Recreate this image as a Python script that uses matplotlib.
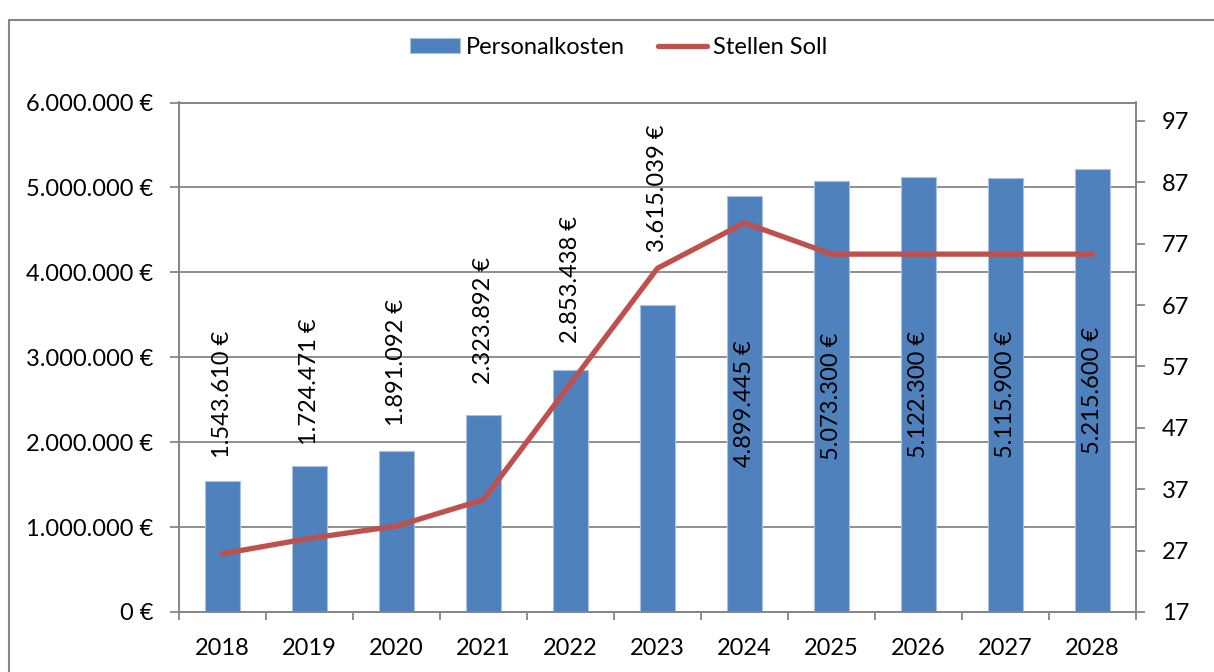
import numpy as np
import matplotlib.pyplot as plt
from matplotlib.patches import Rectangle
from matplotlib.ticker import FuncFormatter, MultipleLocator

years = ['2018', '2019', '2020', '2021', '2022', '2023', '2024', '2025', '2026', '2027', '2028']
personalkosten = [1543610, 1724471, 1891092, 2323892, 2853438, 3615039,
                  4899445, 5073300, 5122300, 5115900, 5215600]
stellen_soll = [26.5, 29, 31, 35.3, 54.2, 73, 80.4, 75.3, 75.3, 75.3, 75.3]

# label offsets above the bars (points), hand placed like in the original
label_pad = [16.5, 15, 18, 22, 19.5, 38]

plt.rcParams['font.family'] = ['Lato', 'DejaVu Sans']
fs = 17
grey = '#868686'


def euro(v, pos=None):
    return f"{int(round(v)):,} €".replace(',', '.')


fig = plt.figure(figsize=(12.14, 6.72), dpi=100)
W, H = 1214, 672
ax = fig.add_axes([179 / W, 1 - 612 / H, (1136 - 179) / W, (612 - 102.5) / H])

x = np.arange(len(years))
ax.bar(x, personalkosten, width=0.41, color='#4F81BD', edgecolor='#A9C1DF',
       linewidth=0.8, zorder=2, label='Personalkosten')
ax.set_xlim(-0.5, len(years) - 0.5)
ax.set_ylim(0, 6000000)
ax.yaxis.set_major_locator(MultipleLocator(1000000))
ax.yaxis.set_major_formatter(FuncFormatter(euro))
ax.grid(axis='y', color=grey, lw=1.3, zorder=0)
ax.set_axisbelow(True)

ax.set_xticks(x, years)
ax.set_xticks(np.arange(-0.5, len(years), 1), minor=True)
ax.tick_params(axis='x', which='major', length=0, pad=19, labelsize=fs)
ax.tick_params(axis='x', which='minor', length=6, width=1.3, color=grey)
ax.tick_params(axis='y', length=6.5, width=1.3, color=grey, pad=12, labelsize=fs)
for s in ax.spines.values():
    s.set_color(grey)
    s.set_linewidth(1.3)

# data labels
for i, v in enumerate(personalkosten):
    if i < len(label_pad):
        ax.annotate(euro(v), (x[i], v), xytext=(0, label_pad[i]), textcoords='offset points',
                    rotation=90, ha='center', va='bottom', fontsize=fs, zorder=3)
    else:
        ax.text(x[i], v / 2, euro(v), rotation=90, ha='center', va='center',
                fontsize=fs, zorder=3)

ax2 = ax.twinx()
ax2.plot(x, stellen_soll, color='#C0504D', lw=3.8, solid_capstyle='round',
         solid_joinstyle='round', label='Stellen Soll', zorder=4)
ax2.set_ylim(17, 100)
ax2.set_yticks(range(17, 98, 10))
ax2.tick_params(axis='y', length=6.5, width=1.3, color=grey, pad=12, labelsize=fs)
for s in ax2.spines.values():
    s.set_color(grey)
    s.set_linewidth(1.3)

h1, l1 = ax.get_legend_handles_labels()
h2, l2 = ax2.get_legend_handles_labels()
fig.legend(h1 + h2, l1 + l2, loc='center', bbox_to_anchor=(619 / W, 1 - 47 / H),
           ncol=2, frameon=False, fontsize=fs, handlelength=2.1, handleheight=0.6,
           handletextpad=0.25, columnspacing=1.4)

# outer chart border
fig.patches.append(Rectangle((9 / W, -0.1), 1.2, 1 - 20 / H + 0.1, transform=fig.transFigure,
                             fill=False, edgecolor=grey, lw=1.5))

fig.savefig('out.png', dpi=100)
